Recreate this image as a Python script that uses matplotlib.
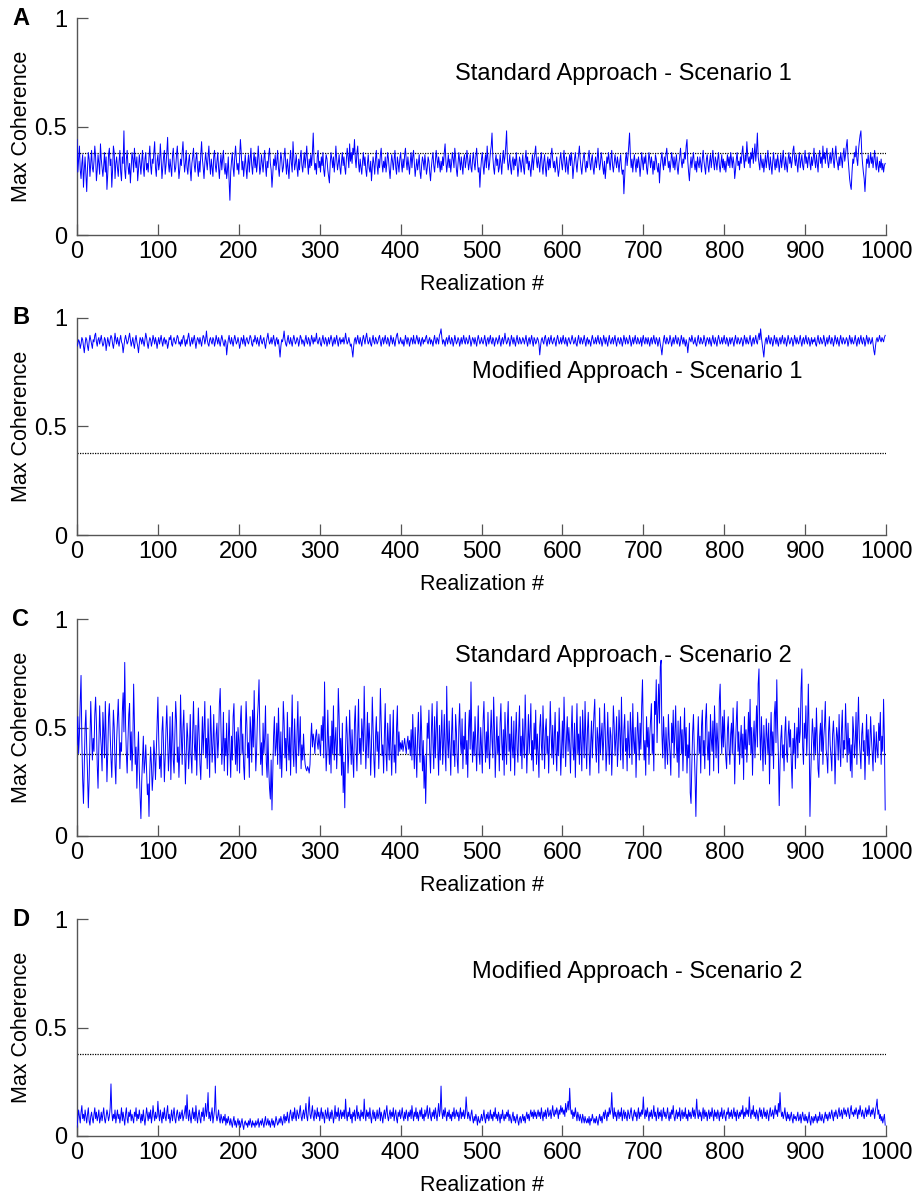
import numpy as np
import matplotlib
matplotlib.use("Agg")
import matplotlib.pyplot as plt

plt.rcParams['font.family'] = ['Liberation Sans', 'DejaVu Sans']

# Max coherence per realization (0..999), stored in hundredths
std_s1 = [
    44,29,35,41,30,26,33,37,22,30, 36,28,20,31,38,35,27,33,39,31, 29,34,41,36,25,30,37,33,28,42, 35,31,27,32,38,29,36,21,28,37, 40,32,35,22,30,41,38,26,33,36,
    31,27,34,39,29,25,36,33,48,30, 26,35,39,32,28,33,24,31,38,35, 29,40,34,31,36,25,30,37,33,28, 34,39,31,27,35,38,30,33,29,36, 41,32,28,35,33,38,43,31,27,34,
    37,30,33,42,35,26,31,36,39,28, 32,38,45,33,29,35,31,27,36,40, 34,29,31,37,41,33,26,30,35,32, 38,43,35,29,33,39,31,28,34,37, 30,25,33,36,40,32,29,35,38,31,
    27,34,29,37,43,35,31,26,33,38, 34,30,36,41,33,28,35,31,27,36, 39,32,29,34,38,31,26,33,37,30, 35,39,31,28,33,26,30,36,25,16, 29,34,38,31,27,36,41,35,30,33,
    28,36,44,38,30,34,27,32,37,31, 26,33,37,29,35,40,32,28,34,38, 31,36,29,33,41,35,28,31,37,33, 29,35,39,32,27,34,31,37,40,33, 30,22,28,35,32,37,30,34,39,31,
    27,33,38,35,29,31,36,40,33,28, 35,31,26,34,39,33,29,43,36,30, 33,37,31,27,35,30,36,39,32,29, 34,38,31,36,41,33,28,35,31,37, 32,38,47,35,30,33,28,36,39,31,
    34,29,36,32,38,30,27,33,37,35, 30,27,24,33,38,35,31,36,29,34, 41,35,30,33,37,31,28,34,38,32, 36,31,28,35,40,36,31,42,34,38, 33,40,37,44,35,31,38,41,33,29,
    35,31,28,34,38,32,36,30,27,33, 37,31,29,34,25,31,36,33,28,35, 39,32,28,35,31,37,40,33,29,34, 31,36,29,33,38,35,30,26,32,37, 34,30,35,39,31,28,36,33,29,35,
    38,33,29,35,31,37,40,34,30,36, 32,28,34,38,31,36,39,33,27,31, 35,30,33,37,29,26,32,36,34,30, 37,33,28,31,36,34,29,25,31,35, 38,32,29,34,39,35,31,36,33,29,
    34,30,36,32,38,42,34,29,33,37, 31,35,29,33,38,35,31,40,36,30, 27,33,38,34,30,36,32,28,35,37, 31,34,39,35,30,33,37,31,29,35, 38,33,30,36,40,34,29,31,22,30,
    35,38,32,28,34,37,31,41,35,30, 33,38,41,47,36,31,28,34,37,32, 35,29,31,37,33,28,35,39,33,36, 41,48,35,30,33,37,31,28,34,36, 30,35,32,38,33,27,31,36,34,29,
    33,37,31,28,35,39,33,36,30,34, 31,27,33,37,30,35,38,41,34,31, 36,33,29,35,38,32,28,34,37,31, 27,33,36,30,35,31,37,40,35,31, 34,29,32,36,31,27,30,35,38,33,
    30,35,39,33,29,36,32,28,34,37, 32,38,34,26,31,35,38,33,29,34, 37,41,35,31,28,33,36,38,32,29, 34,31,36,39,33,30,35,37,31,28, 33,36,31,35,40,34,30,33,38,35,
    31,28,34,26,31,36,33,38,34,30, 35,39,32,29,33,37,34,31,36,33, 29,34,37,31,28,30,19,27,35,38, 32,36,41,47,37,31,35,29,34,37, 33,29,35,31,36,33,27,32,38,34,
    30,36,33,37,31,28,33,38,35,31, 36,33,28,34,30,37,35,31,29,33, 24,31,35,38,33,30,36,32,37,40, 35,31,34,29,33,38,35,31,36,30, 34,37,31,28,33,36,40,34,31,35,
    33,38,35,41,44,34,29,25,32,36, 31,35,38,33,30,34,29,36,33,31, 36,33,29,35,39,34,31,28,35,37, 32,29,34,37,31,35,39,33,30,36, 34,30,35,38,32,29,33,37,31,35,
    30,34,29,33,37,32,36,31,38,35, 31,36,33,26,30,35,38,32,34,30, 36,33,38,41,35,31,37,34,43,37, 33,36,31,38,35,40,33,37,42,34, 39,47,36,33,30,37,34,31,35,29,
    33,37,31,35,39,33,30,36,32,28, 34,38,33,30,35,31,37,34,29,33, 37,31,35,39,33,30,36,32,29,35, 38,33,36,31,34,39,41,35,32,37, 33,29,35,38,31,34,37,32,30,35,
    39,33,36,31,35,38,33,30,36,32, 35,40,34,31,37,33,29,36,39,33, 36,31,41,35,38,33,37,40,34,31, 35,38,33,36,40,34,31,37,41,35, 33,30,36,32,38,35,31,37,40,34,
    37,41,44,36,31,26,23,21,29,35, 33,38,36,41,35,32,39,43,46,48, 38,33,29,26,20,28,35,33,37,31, 34,38,33,36,31,35,39,33,30,36, 32,29,34,31,35,30,33,29,32,33,
]

mod_s1 = [
    87,88,90,89,86,88,91,90,87,84, 88,91,90,87,85,89,92,90,88,86, 90,89,92,93,89,87,90,91,88,90, 92,89,87,88,91,90,85,88,91,89, 87,90,92,91,88,86,89,93,90,88,
    91,89,87,90,92,89,88,84,87,90, 92,90,88,89,91,93,90,87,89,91, 88,86,90,92,89,87,84,88,91,90, 88,91,89,87,90,93,91,88,86,89, 91,90,87,89,92,90,88,91,89,86,
    89,91,88,90,92,89,87,90,91,88, 90,89,86,88,91,90,92,88,87,90, 91,89,88,90,92,91,88,89,87,90, 88,91,92,89,87,90,88,91,93,90, 87,89,91,88,90,92,89,86,89,91,
    90,88,91,89,87,90,92,91,88,90, 94,90,88,87,90,91,89,88,91,90, 87,89,92,90,88,91,89,87,90,92, 90,88,87,90,89,83,87,90,92,89, 88,91,89,87,90,92,90,88,89,91,
    89,86,88,91,90,88,92,89,87,90, 91,89,88,90,92,91,88,87,90,89, 92,90,88,91,89,87,90,92,89,88, 90,91,88,86,89,91,93,90,88,89, 91,88,90,92,89,87,90,91,88,90,
    86,82,87,90,89,91,94,90,88,87, 90,92,89,88,91,89,87,90,92,90, 88,89,91,90,87,89,92,91,88,90, 89,87,90,92,89,88,91,90,87,89, 92,90,88,91,89,90,93,89,88,90,
    91,88,87,90,92,89,88,91,90,87, 89,91,88,90,92,90,87,89,91,88, 90,92,89,87,90,91,88,90,89,91, 88,90,93,90,88,89,91,89,87,88, 85,82,87,90,91,88,90,92,89,88,
    91,89,87,90,92,90,88,91,93,90, 88,89,91,88,87,90,92,89,88,91, 90,88,89,91,92,89,87,90,91,88, 90,92,89,88,91,90,87,89,92,90, 88,91,89,87,90,92,93,90,88,89,
    91,89,88,90,87,89,92,90,88,91, 90,87,89,91,90,88,92,89,88,90, 92,90,88,91,89,87,90,91,88,90, 89,91,92,89,88,90,91,88,90,89, 87,90,92,89,88,91,90,88,92,93,
    95,91,88,90,89,87,90,91,88,90, 92,89,88,91,90,87,89,92,90,88, 89,91,90,87,89,91,88,90,92,89, 88,91,90,88,89,92,90,87,89,91, 90,88,91,89,87,90,92,90,88,89,
    91,89,88,90,92,89,87,90,91,88, 90,92,89,88,91,90,87,89,91,90, 88,90,92,89,87,90,91,88,90,93, 90,88,89,91,90,87,89,92,90,88, 91,89,87,90,92,89,88,91,90,88,
    89,91,90,88,90,92,89,87,90,91, 88,90,92,89,87,91,90,88,89,91, 90,88,83,87,90,91,89,88,91,92, 89,87,90,91,88,90,92,89,88,90, 91,89,87,90,92,90,88,89,91,88,
    90,92,89,88,91,89,87,90,91,89, 88,90,92,90,88,89,91,88,87,90, 92,89,88,91,90,88,90,92,89,87, 90,91,88,90,89,87,90,92,90,88, 89,91,88,90,92,89,88,91,90,87,
    89,92,90,88,91,89,87,90,92,89, 88,90,91,88,90,92,89,87,90,91, 89,88,91,90,87,89,92,90,88,91, 90,88,89,92,90,87,89,91,88,90, 92,89,88,91,90,88,89,91,87,90,
    92,89,88,91,90,88,91,89,87,90, 91,88,90,92,89,88,91,90,87,89, 91,88,86,83,87,90,92,89,88,91, 90,88,89,92,90,87,89,91,88,90, 92,89,88,91,90,87,89,92,90,88,
    91,89,87,90,88,84,88,91,90,89, 92,90,88,89,91,88,87,90,92,89, 88,91,90,88,89,92,90,87,89,91, 90,88,91,89,87,90,92,89,88,91, 89,87,90,92,90,88,89,91,88,90,
    92,89,88,91,90,87,89,91,88,90, 91,89,87,90,92,89,88,91,90,88, 89,91,90,87,89,92,90,88,91,89, 88,90,92,89,87,90,91,88,90,92, 89,88,91,93,90,95,91,88,85,82,
    87,90,91,88,90,92,89,88,91,90, 87,89,92,90,88,91,89,87,90,91, 88,90,92,89,88,91,90,87,89,92, 90,88,89,91,90,87,89,92,90,88, 91,89,88,90,92,89,87,90,91,88,
    90,92,89,88,91,90,87,89,91,88, 90,89,91,88,87,90,92,89,88,91, 90,88,89,92,90,87,89,91,88,90, 92,89,88,91,90,87,89,92,90,88, 91,89,87,90,92,89,88,91,90,88,
    89,91,90,87,89,92,90,88,91,89, 88,90,92,89,87,90,91,88,90,92, 89,88,91,90,87,89,92,90,88,91, 90,88,89,91,88,85,83,87,90,91, 89,90,92,90,89,91,90,89,91,92,
]

std_s2 = [
    42,55,38,47,62,74,44,26,15,33, 50,58,41,29,13,26,44,62,49,35, 45,39,56,64,52,33,22,40,60,47, 41,30,57,48,36,62,45,25,38,55, 61,47,36,27,42,58,50,33,24,44,
    54,63,49,31,43,39,57,66,48,80, 52,38,29,44,56,61,35,48,30,42, 70,51,33,41,22,37,48,30,18,8, 25,36,46,29,34,42,31,19,24,9, 30,41,33,21,28,44,37,26,39,52,
    64,45,31,37,27,48,55,41,25,36, 49,60,44,30,38,55,26,43,57,35, 29,47,62,53,34,41,27,39,65,46, 33,50,58,42,24,37,52,45,31,40, 56,37,29,48,62,43,35,51,28,44,
    59,46,33,26,41,55,38,49,62,36, 45,31,54,40,27,60,48,34,42,56, 38,29,47,52,36,44,61,68,49,33, 41,57,30,45,37,52,28,43,58,39, 27,46,35,55,61,42,33,48,30,50,
    44,29,53,60,38,47,32,26,45,62, 51,36,43,27,55,48,34,58,41,67, 46,30,39,54,61,72,48,33,43,28, 52,38,45,60,34,27,47,31,22,17, 35,12,29,46,55,37,41,52,33,59,
    44,31,48,27,40,62,53,36,45,30, 57,43,35,50,28,46,65,39,32,54, 40,29,48,62,37,44,55,31,42,35, 47,38,33,31,30,32,31,29,33,45, 52,41,47,44,38,46,49,43,40,47,
    42,37,51,44,55,36,71,47,30,39, 58,42,33,46,29,53,38,60,35,44, 50,31,43,68,55,37,45,28,52,20, 34,13,40,55,47,29,38,58,44,33, 49,36,27,52,60,41,30,46,63,38,
    45,33,54,47,39,69,48,31,42,57, 36,52,44,28,41,64,50,35,27,46, 55,39,48,31,44,68,53,37,42,29, 47,61,38,30,52,43,35,56,40,28, 45,58,34,42,29,50,60,37,48,39,
    43,40,44,39,42,45,41,38,43,46, 40,44,37,49,35,56,42,31,50,38, 27,46,57,41,34,60,48,30,44,22, 37,15,33,52,45,58,38,29,47,61, 43,31,55,36,49,62,40,28,51,35,
    46,58,33,42,56,39,30,69,45,36, 53,41,28,47,59,37,44,32,56,48, 35,29,50,61,43,38,54,31,46,40, 57,33,44,27,49,58,40,71,45,34, 48,37,55,42,30,46,60,38,33,50,
    41,29,53,62,45,34,48,36,57,40, 31,47,58,44,36,64,50,27,42,55, 38,46,30,52,61,43,35,49,28,57, 44,33,51,62,39,47,30,55,41,36, 53,28,45,57,40,34,49,60,37,46,
    31,54,42,36,65,47,29,43,56,38, 48,61,35,44,30,52,40,58,33,47, 39,27,50,56,42,35,60,45,31,49, 54,38,46,29,43,62,48,36,51,33, 45,57,40,30,48,37,59,44,28,41,
    53,36,64,47,32,45,55,39,50,42, 29,48,60,41,35,52,27,44,61,38, 47,33,55,42,30,58,46,36,62,44, 31,49,57,40,28,43,53,36,47,56, 63,41,34,50,45,29,59,38,46,52,
    35,44,61,48,30,39,57,43,33,50, 46,28,42,60,51,37,45,55,32,41, 58,47,35,64,43,31,49,56,39,45, 30,53,42,36,57,48,33,61,44,38, 50,27,43,57,46,35,52,40,60,72,
    48,35,44,28,55,41,50,33,46,54, 61,38,47,30,62,56,72,43,58,70, 52,78,81,47,36,55,44,31,50,40, 33,56,45,38,28,52,43,58,36,47, 60,41,34,53,27,46,55,38,49,30,
    44,59,37,50,29,42,36,52,20,15, 33,48,56,40,27,9,30,44,55,38, 46,29,51,58,37,44,31,54,61,42, 35,48,28,56,45,39,53,30,60,47, 36,52,43,29,63,70,48,38,55,41,
    58,44,36,31,49,55,40,33,47,52, 38,59,45,24,42,53,62,39,48,33, 43,51,36,47,26,55,40,49,34,44, 57,42,63,38,50,28,45,53,36,47, 60,41,70,77,48,35,55,43,30,51,
    42,33,54,46,38,52,24,44,57,37, 48,31,56,62,43,72,50,37,14,33, 45,51,36,42,30,48,55,39,34,46, 53,41,49,33,22,45,38,52,31,44, 50,36,59,43,48,68,77,41,33,52,
    45,60,37,49,70,46,9,28,42,54, 47,35,50,38,59,44,31,27,46,52, 39,58,33,45,51,62,40,36,29,48, 55,42,37,30,47,53,44,24,39,50, 46,35,56,41,32,49,58,36,44,40,
    61,47,34,52,38,45,30,42,27,55, 48,36,43,57,33,50,64,45,38,31, 47,52,39,44,26,41,56,37,49,33, 42,55,45,38,30,51,43,34,48,40, 36,52,44,57,33,46,39,63,45,12,
]

mod_s2 = [
    4,8,12,9,6,11,14,8,10,7, 12,9,6,10,13,7,5,9,11,8, 6,10,13,8,11,7,9,12,6,8, 11,7,10,13,8,6,9,12,10,7, 9,13,24,11,7,10,8,12,6,9,
    12,8,10,6,9,13,7,11,8,5, 10,13,8,6,11,9,12,7,10,8, 6,11,9,13,7,10,8,12,9,6, 10,7,12,8,5,9,13,10,7,11, 8,12,6,9,14,10,7,11,8,9,
    16,10,7,12,9,6,11,8,13,9, 7,11,14,8,10,6,9,12,7,10, 13,8,6,10,12,9,7,11,8,10, 12,7,9,11,14,8,19,10,7,12, 9,6,10,13,8,11,7,14,9,6,
    10,12,8,6,11,9,13,7,10,15, 9,12,20,8,11,7,10,13,6,9, 12,23,10,7,9,12,8,6,10,8, 6,9,7,10,5,8,6,9,7,5, 8,6,4,7,9,5,7,4,6,8,
    5,7,4,6,8,5,3,6,7,5, 6,4,7,5,8,6,4,7,5,6, 4,7,5,6,8,4,6,7,5,8, 6,4,7,9,5,6,8,5,7,4, 6,8,5,7,4,6,9,7,5,6,
    8,6,9,7,5,8,10,6,9,7, 11,8,6,10,12,9,7,11,8,13, 9,7,12,10,8,11,14,9,7,10, 12,8,11,15,9,7,12,18,10,8, 11,14,9,7,12,10,8,13,9,11,
    7,10,13,8,11,9,6,12,10,8, 13,9,7,11,8,12,10,6,9,14, 8,11,9,13,7,10,12,8,11,9, 12,8,17,10,7,11,9,13,8,10, 6,11,9,12,7,10,14,8,11,9,
    7,12,9,11,8,17,10,7,12,9, 11,8,13,9,6,10,12,8,11,7, 9,12,8,10,13,7,11,9,6,10, 12,8,11,14,9,7,10,12,8,11, 9,13,7,10,12,8,6,11,9,12,
    8,10,13,9,7,11,8,12,10,7, 11,9,12,8,14,10,7,11,9,13, 8,11,7,10,12,9,13,8,10,7, 12,9,11,14,8,10,13,9,7,11, 9,12,8,13,10,7,11,15,9,12,
    23,11,8,12,9,13,10,7,11,9, 12,8,10,7,11,9,13,8,10,12, 9,11,7,10,13,8,11,9,12,8, 10,18,12,8,11,9,7,10,12,8, 6,9,7,10,8,5,9,7,6,8,
    10,7,9,12,8,6,10,8,11,7, 9,12,8,10,7,11,9,13,8,10, 7,11,9,6,10,8,12,9,7,10, 8,11,9,12,7,10,8,6,9,11, 7,9,6,8,10,7,5,8,9,6,
    8,10,7,9,6,9,11,8,10,7, 10,12,9,11,8,12,9,11,8,10, 12,9,11,8,13,10,7,11,9,12, 8,11,13,9,10,12,8,11,14,10, 9,12,10,13,11,8,12,10,14,11,
    13,10,12,9,15,11,13,16,12,22, 13,10,12,8,11,9,13,10,7,11, 9,7,10,8,6,10,8,6,9,7, 6,8,6,9,5,8,7,10,8,6, 8,6,9,7,5,8,10,7,9,6,
    9,11,8,12,10,7,11,9,13,10, 12,20,11,8,13,9,11,7,10,12, 8,11,9,13,7,10,12,8,11,9, 7,12,10,8,11,13,9,7,10,12, 9,11,7,10,13,8,11,9,12,10,
    18,11,8,12,9,13,10,7,11,9, 12,8,10,14,9,11,7,10,13,8, 11,9,12,7,10,13,9,11,8,10, 13,9,7,11,8,12,10,14,9,7, 10,12,8,11,9,13,7,10,12,8,
    11,9,13,8,10,7,12,9,11,8, 10,13,9,12,8,11,17,10,8,12, 9,11,7,10,13,8,12,9,11,7, 10,12,8,11,9,13,10,7,12,9, 11,8,12,10,7,11,9,13,8,10,
    12,9,7,11,10,13,8,11,9,12, 8,10,13,9,11,7,12,10,8,11, 9,12,10,14,8,11,9,13,10,12, 9,18,11,8,12,10,14,9,11,8, 12,10,7,11,13,9,12,8,10,13,
    9,11,8,12,10,7,11,13,9,10, 12,8,11,14,10,12,9,15,11,20, 12,9,11,8,10,13,9,7,11,8, 10,7,9,11,8,6,10,8,9,7, 9,11,7,8,10,6,9,11,8,7,
    10,7,9,6,8,11,7,5,9,8, 6,9,7,10,8,6,9,7,11,8, 7,10,8,6,9,11,8,10,7,9, 11,8,10,12,9,7,11,9,12,10, 8,11,13,9,10,12,8,11,13,10,
    12,9,11,13,10,8,12,14,10,11, 9,12,10,13,11,8,12,10,14,11, 9,12,10,8,11,13,9,12,10,14, 11,9,12,10,13,11,8,12,14,17, 10,12,8,10,7,9,6,8,10,5,
]

panel_letters = ["A", "B", "C", "D"]
panel_titles = [
    "Standard Approach - Scenario 1",
    "Modified Approach - Scenario 1",
    "Standard Approach - Scenario 2",
    "Modified Approach - Scenario 2",
]
title_pos = [(467, 0.74), (488, 0.75), (467, 0.83), (488, 0.756)]
threshold = 0.38
xticks = list(range(0, 1001, 100))
yticks = [0, 0.5, 1]
ytick_labels = ["0", "0.5", "1"]

series = [std_s1, mod_s1, std_s2, mod_s2]

W, H = 913, 1196
fig = plt.figure(figsize=(W / 100, H / 100), dpi=100)

ax_left = 77 / W
ax_width = 809 / W
ax_height = 217 / H
bottoms_px = [235, 535, 836, 1136]

spine_color = "#555555"
tick_fs = 17
label_fs = 15.5

for i, vals in enumerate(series):
    ax = fig.add_axes([ax_left, 1 - bottoms_px[i] / H, ax_width, ax_height])
    y = np.asarray(vals, dtype=float) / 100.0
    x = np.arange(len(y))
    ax.plot(x, y, color=(0, 0, 1), lw=0.7, zorder=3)
    ax.axhline(threshold, color="black", lw=0.9, ls=(0, (1, 1)), zorder=2)

    ax.set_xlim(0, 1000)
    ax.set_ylim(0, 1)
    ax.set_xticks(xticks)
    ax.set_yticks(yticks)
    ax.set_yticklabels(ytick_labels)
    ax.tick_params(direction="in", length=8, width=0.9, color=spine_color,
                   labelsize=tick_fs, labelcolor="black")
    ax.tick_params(axis="x", pad=4)
    ax.tick_params(axis="y", pad=7)
    for s in ("top", "right"):
        ax.spines[s].set_visible(False)
    for s in ("left", "bottom"):
        ax.spines[s].set_color(spine_color)
        ax.spines[s].set_linewidth(1.0)

    ax.set_xlabel("Realization #", fontsize=label_fs, labelpad=8)
    ax.set_ylabel("Max Coherence", fontsize=label_fs, labelpad=2)

    tx, ty = title_pos[i]
    ax.text(tx, ty, panel_titles[i], fontsize=tick_fs, ha="left", va="center")
    ax.text(-0.08, 1.0, panel_letters[i], transform=ax.transAxes,
            fontsize=tick_fs, fontweight="bold", ha="left", va="center")

fig.savefig("out.png", dpi=100)
